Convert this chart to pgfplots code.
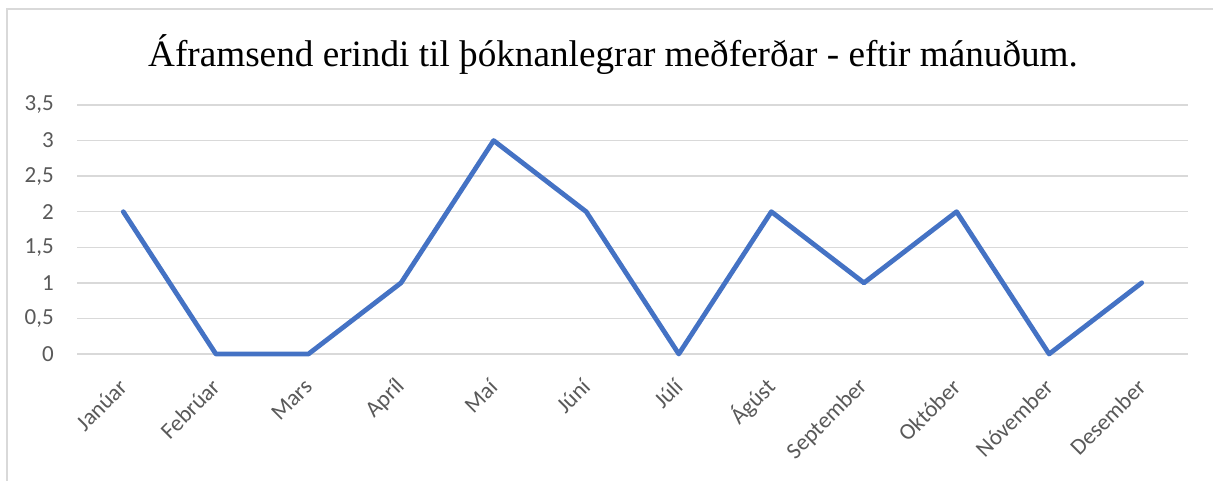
\documentclass[border=0pt]{standalone}
\usepackage{fontspec}
\setmainfont{Liberation Serif}
\newfontfamily\calibri{Carlito}
\usepackage{pgfplots}
\pgfplotsset{compat=1.18}
\definecolor{gridgray}{HTML}{D9D9D9}
\definecolor{txtgray}{HTML}{595959}
\definecolor{lineblue}{HTML}{4472C4}
\begin{document}
\begin{tikzpicture}
\begin{axis}[
  at={(77pt,127pt)}, anchor=south west,
  scale only axis, width=1111pt, height=249pt,
  xmin=-0.5, xmax=11.5, ymin=0, ymax=3.5,
  axis line style={draw=none},
  xtick=data,
  xticklabels={Janúar,Febrúar,Mars,Apríl,Maí,Júní,Júlí,Ágúst,September,Október,Nóvember,Desember},
  ytick={0,0.5,1,1.5,2,2.5,3,3.5},
  major tick length=0pt,
  ymajorgrids, grid style={gridgray, line width=1.3pt},
  /pgf/number format/assume math mode=true,
  /pgf/number format/use comma,
  /pgf/number format/fixed,
  /pgf/number format/precision=1,
  ticklabel style={font=\fontsize{23}{26}\calibri, text=txtgray},
  yticklabel style={anchor=east, inner sep=0pt, xshift=-23pt},
  xticklabel style={rotate=45, anchor=east, inner sep=0pt},
  xticklabel shift=29pt,
  clip=false,
]
\addplot[lineblue, line width=4.8pt, line join=round, line cap=round] coordinates {
(0,2) (1,0) (2,0) (3,1) (4,3) (5,2) (6,0) (7,2) (8,1) (9,2) (10,0) (11,1)
};
\end{axis}
\node[font=\fontsize{37.2}{42}\selectfont, anchor=base] at (613pt,414pt) {Áframsend erindi til þóknanlegrar meðferðar - eftir mánuðum.};
\draw[gridgray, line width=1.3pt] (7pt,-10pt) -- (7pt,472pt) -- (1230pt,472pt);
\pgfresetboundingbox
\path[use as bounding box] (0,0) rectangle (1213pt,481pt);
\end{tikzpicture}
\end{document}
